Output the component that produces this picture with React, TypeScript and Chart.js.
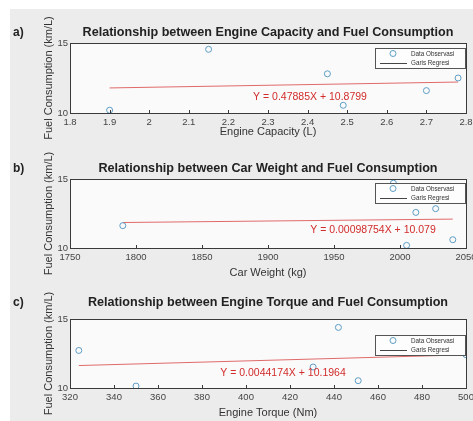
import React, { useEffect, useRef } from "react";
import { Chart, registerables } from "chart.js";

Chart.register(...registerables);

// ---- Data ----
const capacityL = [1.9, 2.15, 2.45, 2.49, 2.7, 2.78];
const fuelByCapacity = [10.2, 14.55, 12.8, 10.55, 11.6, 12.5];
const capacityTicks = { min: 1.8, max: 2.8, step: 0.1 };
const capacitySlope = 0.47885;
const capacityIntercept = 10.8799;

const weightKg = [1790, 1995, 2012, 2027, 2040, 2005];
const fuelByWeight = [11.62, 14.7, 12.58, 12.85, 10.6, 10.19];
const weightTicks = { min: 1750, max: 2050, step: 50 };
const weightSlope = 0.00098754;
const weightIntercept = 10.079;

const torqueNm = [324, 350, 430.5, 442, 451, 500];
const fuelByTorque = [12.72, 10.14, 11.52, 14.39, 10.53, 12.41];
const torqueTicks = { min: 320, max: 500, step: 20 };
const torqueSlope = 0.0044174;
const torqueIntercept = 10.1964;

const fuelTicks = { min: 10, max: 15, step: 5 };

const legendLabels = ["Data Observasi", "Garis Regresi"];
const yTitle = "Fuel Consumption (km/L)";

type Panel = {
  letter: string;
  title: string;
  xTitle: string;
  xs: number[];
  ys: number[];
  ticks: { min: number; max: number; step: number };
  slope: number;
  intercept: number;
  equation: string;
  // layout
  top: number;
  height: number;
  plotTop: number;
  plotBottom: number;
  titleY: number;
  xTitleY: number;
  legendTop: number;
  eqX: number;
  eqY: number;
};

const panels: Panel[] = [
  {
    letter: "a)",
    title: "Relationship between Engine Capacity and Fuel Consumption",
    xTitle: "Engine Capacity (L)",
    xs: capacityL,
    ys: fuelByCapacity,
    ticks: capacityTicks,
    slope: capacitySlope,
    intercept: capacityIntercept,
    equation: "Y = 0.47885X + 10.8799",
    top: 0,
    height: 140,
    plotTop: 43,
    plotBottom: 113,
    titleY: 33,
    xTitleY: 132,
    legendTop: 48,
    eqX: 310,
    eqY: 97,
  },
  {
    letter: "b)",
    title: "Relationship between Car Weight and Fuel Consumption",
    xTitle: "Car Weight (kg)",
    xs: weightKg,
    ys: fuelByWeight,
    ticks: weightTicks,
    slope: weightSlope,
    intercept: weightIntercept,
    equation: "Y = 0.00098754X + 10.079",
    top: 140,
    height: 140,
    plotTop: 39,
    plotBottom: 108,
    titleY: 29,
    xTitleY: 133,
    legendTop: 43,
    eqX: 373,
    eqY: 90,
  },
  {
    letter: "c)",
    title: "Relationship between Engine Torque and Fuel Consumption",
    xTitle: "Engine Torque (Nm)",
    xs: torqueNm,
    ys: fuelByTorque,
    ticks: torqueTicks,
    slope: torqueSlope,
    intercept: torqueIntercept,
    equation: "Y = 0.0044174X + 10.1964",
    top: 280,
    height: 141,
    plotTop: 39,
    plotBottom: 108,
    titleY: 23,
    xTitleY: 133,
    legendTop: 55,
    eqX: 283,
    eqY: 93,
  },
];

const W = 473;
const FONT = "'Liberation Sans', Arial, Helvetica, sans-serif";
const POINT_COLOR = "#5e9ec6";
const LINE_COLOR = "#e06a6a";
const EQ_COLOR = "#d22c2c";
const TEXT_COLOR = "#222222";
const TICK_COLOR = "#444444";

function fmt(v: number): string {
  return String(Math.round(v * 100) / 100);
}

function PanelChart({ p }: { p: Panel }) {
  const ref = useRef<HTMLCanvasElement | null>(null);
  useEffect(() => {
    const canvas = ref.current;
    if (!canvas) return;
    const minX = Math.min(...p.xs);
    const maxX = Math.max(...p.xs);
    const regX = [minX, maxX];
    const deco = {
      id: "deco" + p.letter,
      beforeDatasetsDraw(chart: any) {
        const { ctx, chartArea } = chart;
        ctx.save();
        ctx.fillStyle = "#fafafa";
        ctx.fillRect(chartArea.left, chartArea.top, chartArea.right - chartArea.left, chartArea.bottom - chartArea.top);
        ctx.restore();
      },
      afterDraw(chart: any) {
        const { ctx, chartArea } = chart;
        const xs = chart.scales.x;
        ctx.save();
        // box
        ctx.strokeStyle = "#3a3a3a";
        ctx.lineWidth = 1;
        ctx.strokeRect(
          Math.round(chartArea.left) + 0.5,
          Math.round(chartArea.top) + 0.5,
          Math.round(chartArea.right - chartArea.left),
          Math.round(chartArea.bottom - chartArea.top)
        );
        // inward tick marks on the bottom axis
        ctx.beginPath();
        for (const t of xs.ticks) {
          const px = Math.round(xs.getPixelForValue(t.value)) + 0.5;
          ctx.moveTo(px, chartArea.bottom);
          ctx.lineTo(px, chartArea.bottom - 3);
        }
        ctx.stroke();

        const cx = (chartArea.left + chartArea.right) / 2;
        const cy = (chartArea.top + chartArea.bottom) / 2;
        ctx.textBaseline = "middle";
        // title
        ctx.fillStyle = TEXT_COLOR;
        ctx.textAlign = "center";
        ctx.font = `bold 12.6px ${FONT}`;
        ctx.fillText(p.title, cx, p.titleY);
        // panel letter
        ctx.textAlign = "left";
        ctx.font = `bold 12px ${FONT}`;
        ctx.fillText(p.letter, 13, p.titleY);
        // x title
        ctx.textAlign = "center";
        ctx.font = `11px ${FONT}`;
        ctx.fillStyle = "#333333";
        ctx.fillText(p.xTitle, cx, p.xTitleY);
        // y title
        ctx.save();
        ctx.translate(49, cy);
        ctx.rotate(-Math.PI / 2);
        ctx.fillText(yTitle, 0, 0);
        ctx.restore();
        // equation
        ctx.fillStyle = EQ_COLOR;
        ctx.font = `10.5px ${FONT}`;
        ctx.fillText(p.equation, p.eqX, p.eqY);
        // legend
        const lx = 375;
        const lw = Math.round(chartArea.right) - 1 - lx;
        const ly = p.legendTop;
        const lh = 20;
        ctx.fillStyle = "#fdfdfd";
        ctx.fillRect(lx, ly, lw, lh);
        ctx.strokeStyle = "#555555";
        ctx.strokeRect(lx + 0.5, ly + 0.5, lw, lh);
        ctx.beginPath();
        ctx.strokeStyle = POINT_COLOR;
        ctx.arc(393, ly + 5.5, 3, 0, Math.PI * 2);
        ctx.stroke();
        ctx.beginPath();
        ctx.strokeStyle = "#444444";
        ctx.moveTo(380, ly + 15.5);
        ctx.lineTo(407, ly + 15.5);
        ctx.stroke();
        ctx.fillStyle = "#333333";
        ctx.textAlign = "left";
        ctx.font = `6.3px ${FONT}`;
        ctx.fillText(legendLabels[0], 411, ly + 6);
        ctx.fillText(legendLabels[1], 411, ly + 15);
        ctx.restore();
      },
    };
    const chart = new Chart(canvas, {
      type: "scatter",
      data: {
        datasets: [
          {
            label: legendLabels[0],
            data: p.xs.map((x, i) => ({ x, y: p.ys[i] })),
            borderColor: POINT_COLOR,
            backgroundColor: "rgba(0,0,0,0)",
            borderWidth: 1,
            pointRadius: 3,
            showLine: false,
          },
          {
            label: legendLabels[1],
            data: regX.map((x) => ({ x, y: p.slope * x + p.intercept })),
            borderColor: LINE_COLOR,
            borderWidth: 1,
            pointRadius: 0,
            showLine: true,
          },
        ],
      },
      options: {
        responsive: false,
        animation: false,
        devicePixelRatio: 1,
        events: [],
        layout: { padding: { top: p.plotTop, right: 7, left: 0, bottom: 0 } },
        plugins: { legend: { display: false }, tooltip: { enabled: false }, title: { display: false } },
        scales: {
          x: {
            type: "linear",
            min: p.ticks.min,
            max: p.ticks.max,
            grid: { display: false, drawTicks: false, tickLength: 0 },
            border: { display: false },
            ticks: {
              stepSize: p.ticks.step,
              autoSkip: false,
              maxRotation: 0,
              padding: 4,
              color: TICK_COLOR,
              font: { family: FONT, size: 9.5 },
              callback: (v: any) => fmt(Number(v)),
            },
            afterFit: (s: any) => {
              s.height = p.height - p.plotBottom;
              s.paddingLeft = 0;
              s.paddingRight = 0;
            },
          },
          y: {
            type: "linear",
            min: fuelTicks.min,
            max: fuelTicks.max,
            grid: { display: false, drawTicks: false, tickLength: 0 },
            border: { display: false },
            ticks: {
              stepSize: fuelTicks.step,
              padding: 2,
              color: TICK_COLOR,
              font: { family: FONT, size: 9.5 },
              callback: (v: any) => fmt(Number(v)),
            },
            afterFit: (s: any) => {
              s.width = 70;
              s.paddingTop = 0;
              s.paddingBottom = 0;
            },
          },
        },
      },
      plugins: [deco],
    } as any);
    return () => chart.destroy();
  }, [p]);
  return (
    <canvas
      ref={ref}
      width={W}
      height={p.height}
      style={{ position: "absolute", left: 0, top: p.top, width: W, height: p.height }}
    />
  );
}

export default function App() {
  return (
    <div style={{ position: "fixed", left: 0, top: 0, width: W, height: 421, background: "#ffffff", overflow: "hidden" }}>
      <div style={{ position: "absolute", left: 10, top: 9, right: 0, bottom: 0, background: "#ececec" }} />
      {panels.map((p) => (
        <PanelChart key={p.letter} p={p} />
      ))}
    </div>
  );
}
